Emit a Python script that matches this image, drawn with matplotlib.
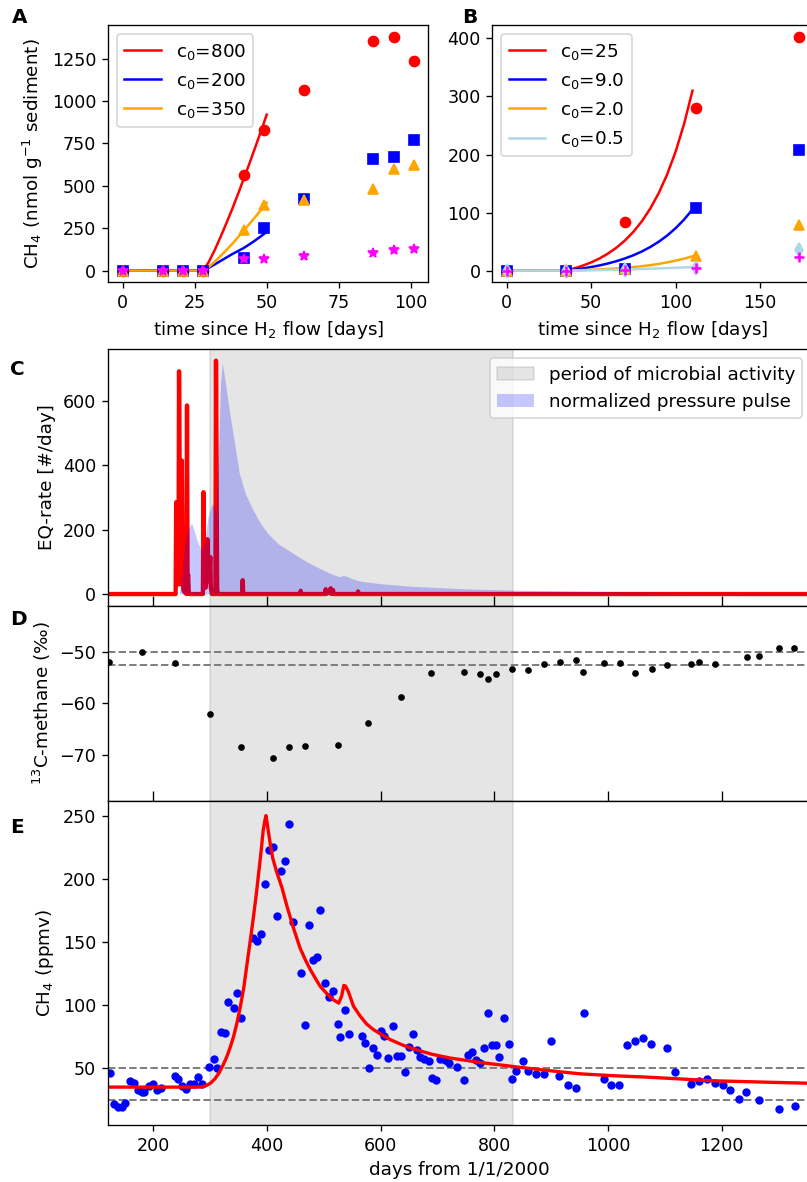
import numpy as np
import matplotlib
matplotlib.use("Agg")
import matplotlib.pyplot as plt

# ---- panel A : incubation, nmol/g sediment ----
a_days = [0, 14, 21, 28, 42, 49, 63, 87, 94, 101]
a_red = [0, 0, 0, 0, 564, 832, 1063, 1357, 1380, 1238]
a_blue = [0, 0, 0, 0, 75, 252, 420, 659, 672, 769]
a_orange = [0, 0, 0, 0, 238, 388, 418, 483, 598, 623]
a_magenta = [0, 0, 0, 0, 67, 71, 86, 106, 120, 130]

a_fit_days = [0, 28, 30, 32, 34, 36, 38, 40, 42, 44, 46, 48, 50]
a_fit_red = [0, 0, 54, 123, 199, 279, 362, 450, 540, 632, 726, 822, 920]
a_fit_blue = [0, 0, 18, 37, 57, 77, 97, 115, 133, 155, 178, 203, 228]
a_fit_orange = [0, 0, 23, 53, 87, 121, 157, 196, 235, 275, 316, 357, 400]
a_labels = ["c$_0$=800", "c$_0$=200", "c$_0$=350"]

# ---- panel B ----
b_days = [0, 35, 70, 112, 173]
b_red = [0, 0, 83, 281, 403]
b_blue = [0, 0, 3, 108, 208]
b_orange = [0, 0, 2, 25, 78]
b_lblue = [0, 0, 1, 4, 35]
b_magenta = [0, 0, 1, 5, 24]

b_fit_days = [0, 35, 40, 45, 50, 55, 60, 65, 70, 75, 80, 85, 90, 95, 100, 105, 110]
b_fit_red = [0, 0, 3.9, 8.6, 14.2, 21.1, 29.5, 39.7, 52, 66.9, 85, 107, 133.6,
             165.9, 205, 252.6, 310]
b_fit_blue = [0, 0, 1.7, 3.8, 6.2, 9.0, 12.4, 16.3, 21.0, 26.5, 33.0, 40.7, 49.8,
              60.4, 73.1, 87.9, 105.4]
b_fit_orange = [0, 0, 0.4, 0.9, 1.4, 2.1, 2.8, 3.7, 4.8, 6.0, 7.6, 9.4, 11.6,
                14.2, 17.2, 20.6, 24.6]
b_fit_lblue = [0, 0, 0.2, 0.4, 0.6, 0.9, 1.2, 1.5, 1.9, 2.3, 2.8, 3.3, 3.8,
               4.3, 4.9, 5.5, 6.1]
b_labels = ["c$_0$=25", "c$_0$=9.0", "c$_0$=2.0", "c$_0$=0.5"]

# ---- panel C : earthquake rate + pressure pulse ----
eq_day = [120, 239, 240, 241, 242, 244, 245, 246, 247, 249, 250, 251, 252, 253,
          258, 259, 260, 261, 262, 263, 287, 288, 289, 290, 292, 294, 295, 296,
          297, 298, 300, 301, 303, 309, 310, 311, 312, 313, 356, 357, 358, 458,
          459, 460, 502, 503, 504, 508, 512, 513, 516, 517, 559, 560, 561, 1358]
eq_rate = [0, 0, 285, 60, 120, 30, 691, 400, 60, 30, 414, 120, 30, 10,
           0, 585, 40, 60, 10, 0, 0, 316, 20, 30, 20, 60, 170, 60,
           110, 40, 115, 20, 0, 0, 724, 400, 20, 0, 0, 43, 0, 0,
           10, 0, 0, 15, 0, 5, 18, 0, 12, 0, 0, 8, 0, 0]

pulse_day = [120, 245, 250, 255, 260, 267, 272, 278, 285, 290, 296, 303, 307,
             310, 314, 318, 321, 327, 333, 342, 351, 362, 374, 388, 401, 420,
             446, 470, 492, 510, 523, 528, 534, 540, 550, 564, 600, 655, 750,
             836, 950, 1017, 1150, 1250, 1358]
pulse_val = [0, 0, 60, 150, 200, 220, 195, 160, 135, 160, 240, 280, 270,
             250, 420, 650, 718, 650, 575, 475, 375, 310, 265, 220, 188, 155,
             126, 100, 80, 65, 56, 54, 58, 55, 47, 40, 32, 24, 16,
             12, 9, 7, 5, 4, 3]

# ---- panel D : d13C methane ----
d_day = [121, 180, 238, 299, 354, 410, 439, 467, 524, 578, 635, 689, 747, 774,
         789, 802, 831, 859, 887, 915, 943, 956, 992, 1020, 1048, 1077, 1104,
         1146, 1160, 1188, 1244, 1266, 1300, 1327]
d_val = [-52.0, -50.0, -52.1, -62.1, -68.4, -70.7, -68.4, -68.3, -68.1, -63.8,
         -58.7, -54.1, -53.9, -54.3, -55.2, -54.3, -53.4, -53.5, -52.3, -52.0,
         -51.5, -53.9, -52.2, -52.2, -54.1, -53.4, -52.6, -52.3, -52.0, -52.3,
         -51.0, -50.8, -49.3, -49.3]

# ---- panel E : CH4 ppmv ----
e_day = [123, 130, 138, 144, 150, 158, 165, 173, 180, 184, 193, 200, 207, 214,
         238, 243, 250, 257, 264, 271, 278, 286, 298, 306, 312, 319, 326, 332,
         341, 347, 354, 375, 383, 390, 396, 404, 411, 418, 425, 432, 439, 445,
         459, 466, 474, 481, 488, 493, 501, 509, 516, 524, 529, 537, 544, 567,
         573, 579, 586, 593, 600, 606, 613, 621, 628, 635, 642, 649, 656, 663,
         669, 676, 685, 690, 697, 704, 713, 720, 734, 747, 754, 761, 768, 775,
         781, 789, 795, 803, 808, 816, 825, 831, 838, 851, 859, 873, 887, 900,
         914, 929, 943, 957, 992, 1005, 1019, 1033, 1047, 1062, 1076, 1104,
         1118, 1145, 1160, 1174, 1188, 1202, 1215, 1230, 1243, 1266, 1300, 1328]
e_val = [46.5, 22.0, 19.4, 19.4, 22.5, 40.0, 38.6, 32.8, 31.2, 31.2, 36.0, 37.6,
         32.8, 34.4, 43.9, 41.8, 36.0, 33.6, 37.6, 37.6, 42.9, 37.6, 51.3, 57.4,
         50.0, 78.5, 78.2, 102.0, 97.5, 109.4, 90.1, 153.4, 150.5, 156.3, 195.7,
         223.1, 224.7, 170.1, 205.7, 213.9, 243.4, 165.8, 125.2, 84.0, 163.4,
         135.5, 137.9, 175.1, 117.3, 106.2, 110.7, 85.3, 75.0, 95.9, 77.2, 75.8,
         70.3, 50.0, 66.1, 60.5, 79.5, 75.8, 58.4, 83.5, 59.7, 59.7, 47.3, 66.6,
         77.4, 64.5, 58.7, 57.4, 55.5, 42.6, 41.0, 57.4, 56.3, 54.2, 50.8, 41.0,
         60.5, 62.6, 56.1, 54.0, 65.8, 93.3, 68.0, 68.4, 59.0, 90.1, 69.2, 41.8,
         47.6, 55.8, 48.1, 45.2, 45.2, 71.3, 43.9, 36.5, 33.9, 93.5, 41.3, 36.8,
         36.8, 68.4, 71.3, 73.7, 69.5, 65.8, 47.3, 37.8, 39.9, 41.3, 38.6, 37.0,
         32.8, 25.4, 31.0, 24.5, 17.7, 20.2]

model_day = [120, 282, 292, 300, 308, 315, 322, 329, 335, 341, 347, 353, 359,
             364, 370, 376, 381, 385, 389, 393, 396, 398, 402, 406, 410, 417,
             426, 435, 447, 458, 467, 476, 485, 493, 505, 517, 526, 531, 535,
             538, 543, 552, 564, 575, 587, 600, 617, 640, 663, 690, 722, 775,
             833, 890, 951, 1010, 1068, 1130, 1185, 1270, 1358]
model_val = [35, 35, 36, 38, 41.5, 46, 52, 59, 66.5, 75, 86, 99, 114,
             130.5, 150, 170, 188, 204, 220, 238, 246, 250, 238, 226, 216, 205,
             193, 178, 160, 145, 136, 128, 121, 115, 109, 104, 101.5, 107, 115.5,
             115, 110.5, 99, 91, 85, 80.5, 77, 72.5, 68, 64.5, 61, 58, 54.5,
             51.3, 48.3, 45.5, 44, 42.9, 41.4, 40, 39, 38]

active = (300, 832)
xlim_days = (120, 1358)

plt.rcParams['font.size'] = 11
plt.rcParams['xtick.labelsize'] = 10.5
plt.rcParams['ytick.labelsize'] = 10.5

fig = plt.figure(figsize=(807 / 120, 1182 / 120), dpi=120)
W, H = 807.0, 1182.0


def box(x0, y0, x1, y1):
    return [x0 / W, 1 - y1 / H, (x1 - x0) / W, (y1 - y0) / H]


axA = fig.add_axes(box(108, 25, 428.3, 282.3))
axB = fig.add_axes(box(492.3, 25, 813.4, 282.3))
axC = fig.add_axes(box(108, 349, 811.6, 605.7))
axD = fig.add_axes(box(108, 605.7, 811.6, 801))
axE = fig.add_axes(box(108, 801, 811.6, 1125))

# A
axA.plot(a_fit_days, a_fit_red, color='red', label=a_labels[0])
axA.plot(a_fit_days, a_fit_blue, color='blue', label=a_labels[1])
axA.plot(a_fit_days, a_fit_orange, color='orange', label=a_labels[2])
axA.plot(a_days, a_red, 'o', color='red', ms=6)
axA.plot(a_days, a_blue, 's', color='blue', ms=6)
axA.plot(a_days, a_orange, '^', color='orange', ms=6)
axA.plot(a_days, a_magenta, '*', color='magenta', ms=6)
axA.set_xticks([0, 25, 50, 75, 100])
axA.set_xlabel('time since H$_2$ flow [days]')
axA.set_ylabel('CH$_4$ (nmol g$^{-1}$ sediment)')
axA.legend(loc='upper left', fontsize=11)

# B
axB.plot(b_fit_days, b_fit_red, color='red', label=b_labels[0])
axB.plot(b_fit_days, b_fit_blue, color='blue', label=b_labels[1])
axB.plot(b_fit_days, b_fit_orange, color='orange', label=b_labels[2])
axB.plot(b_fit_days, b_fit_lblue, color='lightblue', label=b_labels[3])
axB.plot(b_days, b_red, 'o', color='red', ms=6)
axB.plot(b_days, b_blue, 's', color='blue', ms=6)
axB.plot(b_days, b_orange, '^', color='orange', ms=6)
axB.plot(b_days, b_lblue, 'd', color='lightblue', ms=6)
axB.plot(b_days, b_magenta, '+', color='magenta', ms=6, mew=1.5)
axB.set_xticks([0, 50, 100, 150])
axB.set_xlabel('time since H$_2$ flow [days]')
axB.legend(loc='upper left', fontsize=11)

# C
axC.axvspan(*active, color='gray', alpha=0.2, label='period of microbial activity', zorder=0)
axC.plot(eq_day, eq_rate, color='red', lw=2.6, zorder=2)
axC.fill_between(pulse_day, 0, pulse_val, color='blue', alpha=0.22, lw=0,
                 label='normalized pressure pulse', zorder=3)
axC.set_ylabel('EQ-rate [#/day]')
axC.set_yticks([0, 200, 400, 600])
axC.legend(loc='upper right', fontsize=11)

# D
axD.axvspan(*active, color='gray', alpha=0.2, zorder=0)
axD.axhline(-50, color='gray', ls='--', lw=1.2)
axD.axhline(-52.5, color='gray', ls='--', lw=1.2)
axD.plot(d_day, d_val, 'o', color='black', ms=3)
axD.set_ylim(-79, -41)
axD.set_yticks([-50, -60, -70])
axD.set_ylabel('$^{13}$C-methane (‰)')

# E
axE.axvspan(*active, color='gray', alpha=0.2, zorder=0)
axE.axhline(50, color='gray', ls='--', lw=1.2)
axE.axhline(25, color='gray', ls='--', lw=1.2)
axE.plot(e_day, e_val, 'o', color='blue', ms=4)
axE.plot(model_day, model_val, color='red', lw=2)
axE.set_ylim(5, 261.5)
axE.set_ylabel('CH$_4$ (ppmv)')
axE.set_xlabel('days from 1/1/2000')

for ax in (axC, axD, axE):
    ax.set_xlim(*xlim_days)
    ax.set_xticks([200, 400, 600, 800, 1000, 1200])
for ax in (axC, axD):
    ax.tick_params(axis='x', direction='in', length=6, labelbottom=False)

for lbl, x, y in [('A', 12, 23), ('B', 462, 23), ('C', 10, 375), ('D', 10, 625), ('E', 10, 833)]:
    fig.text(x / W, 1 - y / H, lbl, fontsize=12, fontweight='bold')

fig.savefig('out.png', dpi=120)
